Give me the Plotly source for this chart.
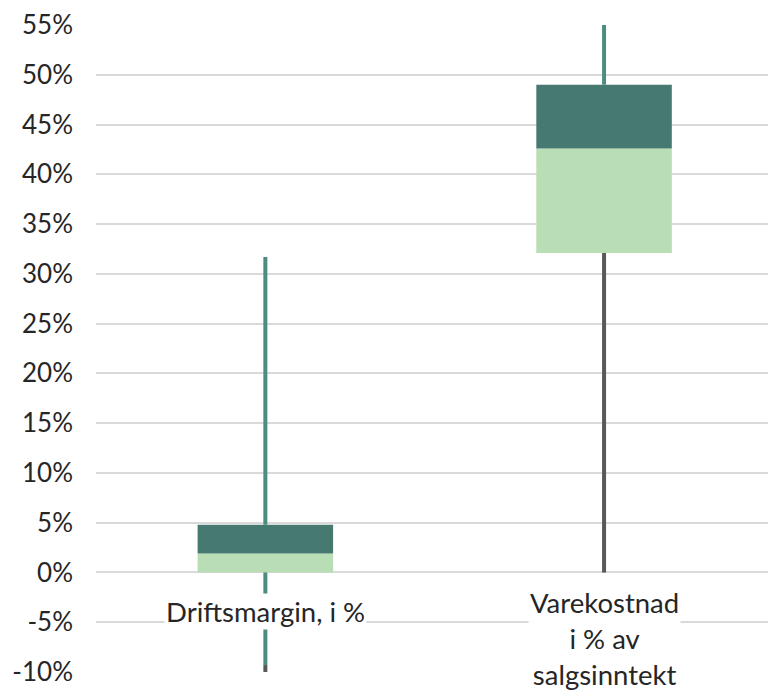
import plotly.graph_objects as go

# Box summary per indicator (percent)
categories = ["Driftsmargin, i %", "Varekostnad<br>i % av<br>salgsinntekt"]
q1 = [0.0, 32.1]
median = [1.9, 42.6]
q3 = [4.8, 49.0]
whisker_max = [31.7, 55.0]
lower_teal_end = [-9.3, 32.1]
whisker_min = [-10.0, 0.0]

tick_values = [-10, -5, 0, 5, 10, 15, 20, 25, 30, 35, 40, 45, 50, 55]
tick_labels = ["-10%", "-5%", "0%", "5%", "10%", "15%", "20%", "25%",
               "30%", "35%", "40%", "45%", "50%", "55%"]

DARK = "#467A70"
LIGHT = "#B9DDB5"
TEAL = "#4E8B80"
GRAY = "#595959"
FONT = "Lato"

xs = list(range(len(categories)))
fig = go.Figure()

# whiskers
for i in xs:
    fig.add_trace(go.Scatter(x=[i, i], y=[q3[i], whisker_max[i]], mode="lines",
                             line=dict(color=TEAL, width=4), hoverinfo="skip"))
    fig.add_trace(go.Scatter(x=[i, i], y=[q1[i], lower_teal_end[i]], mode="lines",
                             line=dict(color=TEAL, width=4), hoverinfo="skip"))
    fig.add_trace(go.Scatter(x=[i, i], y=[lower_teal_end[i], whisker_min[i]], mode="lines",
                             line=dict(color=GRAY, width=4), hoverinfo="skip"))

# box: Q1 -> median (light), median -> Q3 (dark)
fig.add_trace(go.Bar(x=xs, y=[m - a for m, a in zip(median, q1)], base=q1,
                     width=0.4, marker=dict(color=LIGHT, line=dict(width=0))))
fig.add_trace(go.Bar(x=xs, y=[b - m for b, m in zip(q3, median)], base=median,
                     width=0.4, marker=dict(color=DARK, line=dict(width=0))))

# category labels sitting on the chart with a white backing
label_y = [-3.9, -6.6]
for i, (lab, ly) in enumerate(zip(categories, label_y)):
    fig.add_annotation(x=i, y=ly, xref="x", yref="y", text=lab, showarrow=False,
                       font=dict(family=FONT, size=27.5, color="#262626"),
                       bgcolor="white", borderpad=1, align="center")

fig.update_layout(
    width=768, height=693,
    margin=dict(l=96, r=0, t=25, b=21),
    paper_bgcolor="white", plot_bgcolor="white",
    showlegend=False, barmode="overlay",
    font=dict(family=FONT, size=26, color="#262626"),
    xaxis=dict(range=[-0.5, 1.484], showticklabels=False, showgrid=False,
               zeroline=False, showline=False),
    yaxis=dict(range=[-10, 55], tickvals=tick_values, ticktext=tick_labels,
               showgrid=True, gridcolor="#D9D9D9", gridwidth=2, zeroline=False,
               showline=False, ticklabelstandoff=22,
               tickfont=dict(family=FONT, size=26, color="#262626")),
)

fig.write_html("out.html")
